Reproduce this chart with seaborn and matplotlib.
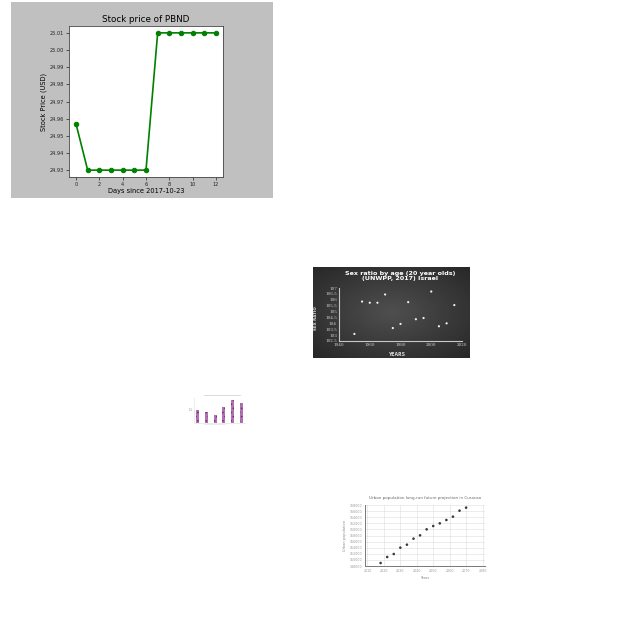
import matplotlib
matplotlib.use('Agg')
import numpy as np
import matplotlib.pyplot as plt
from matplotlib.patches import Rectangle
import seaborn as sns

# Stock price of PBND
stock_days = [0, 1, 2, 3, 4, 5, 6, 7, 8, 9, 10, 11, 12]
stock_price = [24.957, 24.93, 24.93, 24.93, 24.93, 24.93, 24.93,
               25.01, 25.01, 25.01, 25.01, 25.01, 25.01]
stock_xticks = [0, 2, 4, 6, 8, 10, 12]
stock_yticks = [24.93, 24.94, 24.95, 24.96, 24.97, 24.98, 24.99, 25.00, 25.01]

# Sex ratio by age (20 year olds), Israel
sex_years = [1950, 1955, 1960, 1965, 1970, 1975, 1980, 1985, 1990, 1995, 2000, 2005, 2010, 2015]
sex_ratio = [103.1, 105.85, 105.75, 105.75, 106.45, 103.6, 103.95, 105.8,
             104.35, 104.45, 106.7, 103.75, 104.0, 105.55]
sex_xticks = [1940, 1960, 1980, 2000, 2020]
sex_yticks = [102.5, 103, 103.5, 104, 104.5, 105, 105.5, 106, 106.5, 107]
sex_yticklabels = ['102.5', '103', '103.5', '104', '104.5', '105', '105.5', '106', '106.5', '107']

# tiny bar chart
bar_cats = ['a', 'b', 'c', 'd', 'e', 'f']
bar_vals = [0.10, 0.083, 0.062, 0.12, 0.175, 0.155]

# Urban population Curacao
urban_years = [2018, 2022, 2026, 2030, 2034, 2038, 2042, 2046, 2050, 2054, 2058, 2062, 2066, 2070]
urban_pop = [148980, 150950, 151930, 154010, 154990, 156960, 158050, 160020,
             161110, 161990, 163080, 164170, 166140, 167130]
urban_xticks = [2010, 2020, 2030, 2040, 2050, 2060, 2070, 2080]
urban_yticks = [148000, 150000, 152000, 154000, 156000, 158000, 160000,
                162000, 164000, 166000, 168000]

W = H = 640
plt.rcParams['hatch.linewidth'] = 0.6


def rect(x0, y0, x1, y1):
    # pixel box -> figure fraction
    return [x0 / W, 1 - y1 / H, (x1 - x0) / W, (y1 - y0) / H]


def fx(x):
    return x / W


def fy(y):
    return 1 - y / H


fig = plt.figure(figsize=(6.4, 6.4), dpi=100)
fig.patch.set_facecolor('white')

# ---------- chart 1: stock price ----------
fig.add_artist(Rectangle((fx(11), fy(198)), 262 / W, 196 / H, transform=fig.transFigure,
                         facecolor='#c0c0c0', edgecolor='none', zorder=0))
ax1 = fig.add_axes(rect(69, 26, 223, 177))
ax1.set_facecolor('white')
sns.lineplot(x=stock_days, y=stock_price, marker='o', color='green', markersize=3.2,
             markeredgecolor='green', linewidth=1.2, ax=ax1)
ax1.set_xticks(stock_xticks)
ax1.set_yticks(stock_yticks)
ax1.set_yticklabels([f'{v:.2f}' for v in stock_yticks])
ax1.tick_params(labelsize=3.6, length=2, width=0.5, pad=1.5, colors='#222222')
for s in ax1.spines.values():
    s.set_linewidth(0.6)
    s.set_color('#444444')
ax1.set_title('Stock price of PBND', fontsize=6.3, pad=3)
ax1.set_xlabel('Days since 2017-10-23', fontsize=4.8, labelpad=1)
ax1.set_ylabel('Stock Price (USD)', fontsize=4.8, labelpad=2)

# ---------- chart 2: sex ratio ----------
bg2 = fig.add_axes(rect(313, 267, 470, 358))
yy, xx = np.mgrid[-1:1:90j, -1:1:160j]
grad = 0.31 - 0.11 * np.sqrt(xx ** 2 + yy ** 2)
bg2.imshow(grad, cmap='gray', vmin=0, vmax=1, aspect='auto')
bg2.axis('off')

ax2 = fig.add_axes(rect(339, 288, 462, 341))
ax2.patch.set_alpha(0)
sns.scatterplot(x=sex_years, y=sex_ratio, color='#f2f2f2', s=2.5, edgecolor='none', ax=ax2)
ax2.set_xlim(1940, 2020)
ax2.set_ylim(102.5, 107)
ax2.set_xticks(sex_xticks)
ax2.set_yticks(sex_yticks)
ax2.set_yticklabels(sex_yticklabels)
ax2.tick_params(labelsize=3.0, length=0, pad=1.5, colors='#cfcfcf')
for lab in ax2.get_xticklabels() + ax2.get_yticklabels():
    lab.set_family('DejaVu Serif')
for side in ['top', 'right']:
    ax2.spines[side].set_visible(False)
for side in ['left', 'bottom']:
    ax2.spines[side].set_color('#c8c8c8')
    ax2.spines[side].set_linewidth(0.8)
fig.text(fx(400), fy(276), 'Sex ratio by age (20 year olds)\n(UNWPP, 2017) Israel',
         ha='center', va='center', fontsize=4.6, fontweight='bold', color='white',
         linespacing=1.1)
fig.text(fx(397), fy(354), 'YEARS', ha='center', va='center', fontsize=3.3,
         fontweight='bold', color='#d8d8d8')
fig.text(fx(316), fy(318), 'SEX RATIO', ha='center', va='center', fontsize=2.9,
         fontweight='bold', color='#d8d8d8', rotation=90)

# ---------- chart 3: tiny bars ----------
ax3 = fig.add_axes(rect(194, 398, 245, 423))
sns.barplot(x=bar_cats, y=bar_vals, color='#bb66bb', width=0.34, ax=ax3)
for p in ax3.patches:
    p.set_hatch('....')
    p.set_edgecolor('#7a2a7a')
    p.set_linewidth(0)
ax3.set_ylim(0, 0.19)
ax3.set_yticks([0.1])
ax3.set_yticklabels(['0.1'])
ax3.set_xticks([])
ax3.set_xlabel('')
ax3.tick_params(labelsize=1.8, length=0, pad=1, colors='#888888')
for side in ['top', 'right']:
    ax3.spines[side].set_visible(False)
for side in ['left', 'bottom']:
    ax3.spines[side].set_color('#dddddd')
    ax3.spines[side].set_linewidth(0.4)
ax3.plot([0.2, 0.9], [1.12, 1.12], transform=ax3.transAxes, color='#cccccc',
         linewidth=0.5, clip_on=False)
ax3.plot([0.2, 0.6], [-0.05, -0.05], transform=ax3.transAxes, color='#dddddd',
         linewidth=0.4, clip_on=False)

# ---------- chart 4: urban population ----------
ax4 = fig.add_axes(rect(365, 505, 485, 566))
sns.scatterplot(x=urban_years, y=urban_pop, color='#3a3a3a', s=3.5, edgecolor='none',
                ax=ax4, zorder=3)
ax4.set_xlim(2008.5, 2081.5)
ax4.set_ylim(148000, 168000)
ax4.set_xticks(urban_xticks)
ax4.set_yticks(urban_yticks)
ax4.grid(True, color='#dddddd', linewidth=0.4)
ax4.tick_params(labelsize=2.3, length=0, pad=2, colors='#999999')
for side in ['top', 'right']:
    ax4.spines[side].set_visible(False)
for side in ['left', 'bottom']:
    ax4.spines[side].set_color('#777777')
    ax4.spines[side].set_linewidth(0.7)
ax4.set_title('Urban population long-run future projection in Curacao',
              fontsize=2.9, color='#666666', pad=4)
ax4.set_xlabel('Years', fontsize=2.5, color='#888888', labelpad=2)
ax4.set_ylabel('Urban population', fontsize=2.5, color='#888888', labelpad=2)

fig.savefig('out.png', dpi=100)
plt.close(fig)
